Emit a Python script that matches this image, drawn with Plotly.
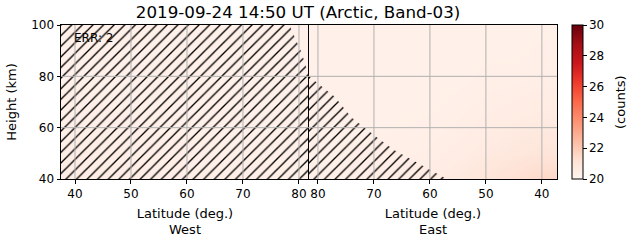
import plotly.graph_objects as go

# ---------------- data ----------------
heights = [35, 40, 45, 50, 60, 70, 80, 90, 100, 105]

west_lat = [35, 40, 50, 60, 70, 80, 84]
west_z = [
    [20.45, 20.45, 20.40, 20.40, 20.35, 20.30, 20.30],
    [20.45, 20.45, 20.40, 20.40, 20.35, 20.30, 20.30],
    [20.40, 20.40, 20.40, 20.35, 20.35, 20.30, 20.30],
    [20.40, 20.40, 20.35, 20.35, 20.30, 20.30, 20.30],
    [20.35, 20.35, 20.35, 20.30, 20.30, 20.30, 20.30],
    [20.35, 20.35, 20.30, 20.30, 20.30, 20.30, 20.30],
    [20.30, 20.30, 20.30, 20.30, 20.30, 20.30, 20.30],
    [20.30, 20.30, 20.30, 20.30, 20.30, 20.30, 20.30],
    [20.30, 20.30, 20.30, 20.30, 20.30, 20.30, 20.30],
    [20.30, 20.30, 20.30, 20.30, 20.30, 20.30, 20.30],
]

east_lat = [84, 80, 70, 60, 55, 50, 45, 40, 35]
east_z = [
    [20.30, 20.30, 20.35, 20.50, 20.70, 20.95, 21.20, 21.50, 21.60],
    [20.30, 20.30, 20.35, 20.50, 20.70, 20.95, 21.20, 21.50, 21.60],
    [20.30, 20.30, 20.35, 20.45, 20.60, 20.80, 21.00, 21.25, 21.30],
    [20.30, 20.30, 20.35, 20.40, 20.50, 20.65, 20.80, 20.95, 21.00],
    [20.30, 20.30, 20.30, 20.35, 20.40, 20.50, 20.60, 20.70, 20.75],
    [20.30, 20.30, 20.30, 20.30, 20.35, 20.40, 20.45, 20.50, 20.50],
    [20.30, 20.30, 20.30, 20.30, 20.30, 20.35, 20.35, 20.40, 20.40],
    [20.30, 20.30, 20.30, 20.30, 20.30, 20.30, 20.30, 20.35, 20.35],
    [20.30, 20.30, 20.30, 20.30, 20.30, 20.30, 20.30, 20.30, 20.30],
    [20.30, 20.30, 20.30, 20.30, 20.30, 20.30, 20.30, 20.30, 20.30],
]

# hatched (flagged) regions
west_hatch_lat = [37.5, 37.5, 78.3, 80.5, 81.79, 81.79, 37.5]
west_hatch_h = [40, 100, 100, 89, 80, 40, 40]
east_hatch_lat = [81.6, 81.6, 77.0, 74.0, 69.6, 66.4, 62.0, 59.8, 57.0, 81.6]
east_hatch_h = [40, 80, 72, 64, 56.5, 51.3, 46, 43.5, 40, 40]

x_ticks = [40, 50, 60, 70, 80]
y_ticks = [40, 60, 80, 100]
cbar_ticks = [20, 22, 24, 26, 28, 30]

west_range = [37.5, 81.79]
east_range = [81.6, 37.3]
h_range = [40, 100]

title = "2019-09-24 14:50 UT (Arctic, Band-03)"
err_text = "ERR: 2"
cbar_title = "(counts)"

FONT = "DejaVu Sans"

fig = go.Figure()

fig.add_trace(go.Heatmap(x=west_lat, y=heights, z=west_z, zmin=20, zmax=30,
                         colorscale="Reds", zsmooth="best", showscale=False,
                         xaxis="x", yaxis="y"))
fig.add_trace(go.Heatmap(x=east_lat, y=heights, z=east_z, zmin=20, zmax=30,
                         colorscale="Reds", zsmooth="best", xaxis="x2", yaxis="y2",
                         colorbar=dict(
                             x=1.030, xanchor="left", xref="paper",
                             y=0, yanchor="bottom", yref="paper", len=1, lenmode="fraction",
                             xpad=0, ypad=0,
                             thickness=11, thicknessmode="pixels",
                             outlinewidth=1, outlinecolor="black",
                             tickvals=cbar_ticks, ticks="outside", ticklen=3.5,
                             tickcolor="black",
                             tickfont=dict(family=FONT, size=12, color="black"),
                         )))

hatch = dict(shape="/", fgcolor="black", fgopacity=1, bgcolor="rgba(0,0,0,0)",
             size=7.5, solidity=0.18)
fig.add_trace(go.Scatter(x=west_hatch_lat, y=west_hatch_h, fill="toself", mode="lines",
                         line=dict(width=0), fillcolor="rgba(0,0,0,0)", fillpattern=hatch,
                         hoverinfo="skip", showlegend=False, xaxis="x", yaxis="y"))
fig.add_trace(go.Scatter(x=east_hatch_lat, y=east_hatch_h, fill="toself", mode="lines",
                         line=dict(width=0), fillcolor="rgba(0,0,0,0)", fillpattern=hatch,
                         hoverinfo="skip", showlegend=False, xaxis="x2", yaxis="y2"))

# grid lines above the image
grid = dict(color="#b0b0b0", width=1)
shapes = []
for xr, rng in (("x", west_range), ("x2", east_range)):
    for t in x_ticks:
        shapes.append(dict(type="line", xref=xr, yref="y domain", x0=t, x1=t, y0=0, y1=1,
                           line=grid, layer="above"))
    for t in y_ticks[1:-1]:
        shapes.append(dict(type="line", xref=xr + " domain", yref="y", x0=0, x1=1, y0=t, y1=t,
                           line=grid, layer="above"))

axis_common = dict(showline=True, linecolor="black", linewidth=1, mirror=True,
                   ticks="outside", ticklen=3.5, tickcolor="black", showgrid=False,
                   zeroline=False, tickfont=dict(family=FONT, size=12, color="black"))

fig.update_layout(
    width=631, height=243,
    margin=dict(l=61, r=74, t=25, b=64, autoexpand=False),
    paper_bgcolor="white", plot_bgcolor="white",
    font=dict(family=FONT, color="black"),
    title=dict(text=title, x=0.478, xref="paper", xanchor="center",
               y=1 - 12 / 243, yref="container", yanchor="middle",
               font=dict(family=FONT, size=16.7, color="black")),
    xaxis=dict(domain=[0, 0.5], range=west_range, tickvals=x_ticks,
               title=dict(text="Latitude (deg.)<br>West", standoff=8,
                          font=dict(family=FONT, size=13, color="black")),
               **axis_common),
    xaxis2=dict(domain=[0.5, 1], range=east_range, tickvals=x_ticks, anchor="y2",
                title=dict(text="Latitude (deg.)<br>East", standoff=8,
                           font=dict(family=FONT, size=13, color="black")),
                **axis_common),
    yaxis=dict(range=h_range, tickvals=y_ticks, anchor="x",
               title=dict(text="Height (km)", standoff=11,
                          font=dict(family=FONT, size=13, color="black")),
               **axis_common),
    yaxis2=dict(range=h_range, tickvals=y_ticks, anchor="x2", showticklabels=False,
                ticks="", showline=True, linecolor="black", linewidth=1, mirror=True,
                showgrid=False, zeroline=False),
    shapes=shapes,
    annotations=[
        dict(text=err_text, x=0.022, y=0.916, xref="paper", yref="paper",
             xanchor="left", yanchor="middle", showarrow=False,
             font=dict(family=FONT, size=12, color="black")),
        dict(text=cbar_title, x=(620 - 61) / 496, y=0.5, xref="paper", yref="paper",
             xanchor="center", yanchor="middle", textangle=-90, showarrow=False,
             font=dict(family=FONT, size=13, color="black")),
    ],
)

fig.write_html("out.html")
